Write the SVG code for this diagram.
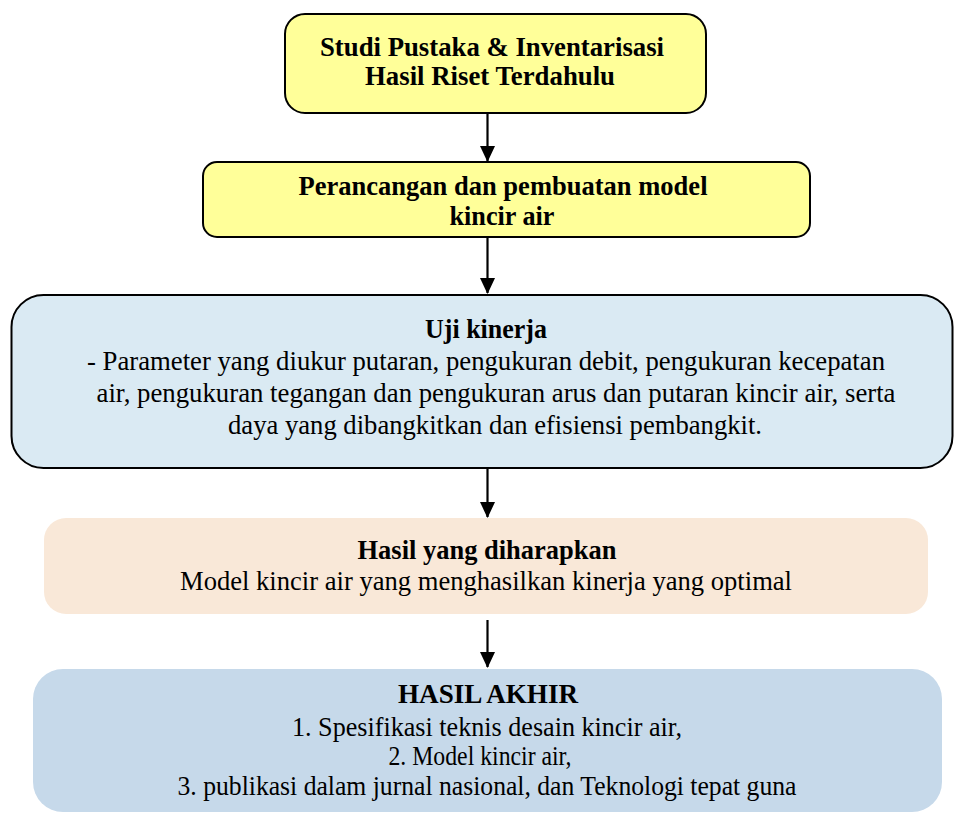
<svg xmlns="http://www.w3.org/2000/svg" width="954" height="813" viewBox="0 0 954 813">
<style>
.t{font-family:"Liberation Serif","Times New Roman",Times,serif;font-size:28px;fill:#000;text-anchor:middle}
.b{font-weight:bold}
.conn line{stroke:#000;stroke-width:2.2}
.box{stroke:#000;stroke-width:2}
</style>
<defs>
<marker id="ah" viewBox="0 0 16 16" markerWidth="16" markerHeight="16" refX="15" refY="8" orient="auto" markerUnits="userSpaceOnUse">
<path d="M0,0.5 L16,8 L0,15.5 Z" fill="#000"/>
</marker>
</defs>
<rect width="954" height="813" fill="#fff"/>
<g id="n1">
<rect class="box" x="285" y="14" width="421" height="99" rx="20" fill="#FFFF99"/>
<text class="t b" x="492" y="56" textLength="344" lengthAdjust="spacingAndGlyphs">Studi Pustaka &amp; Inventarisasi</text>
<text class="t b" x="490" y="85" textLength="250" lengthAdjust="spacingAndGlyphs">Hasil Riset Terdahulu</text>
</g>
<g id="n2">
<rect class="box" x="203" y="162" width="607" height="75" rx="14" fill="#FFFF99"/>
<text class="t b" x="503" y="195" textLength="409" lengthAdjust="spacingAndGlyphs">Perancangan dan pembuatan model</text>
<text class="t b" x="502" y="225" textLength="105" lengthAdjust="spacingAndGlyphs">kincir air</text>
</g>
<g id="n3">
<rect class="box" x="11.5" y="295" width="941" height="173" rx="32" fill="#DAEAF3"/>
<text class="t b" x="486" y="338" textLength="122" lengthAdjust="spacingAndGlyphs">Uji kinerja</text>
<text class="t" x="486" y="370" textLength="798" lengthAdjust="spacingAndGlyphs">- Parameter yang diukur putaran, pengukuran debit, pengukuran kecepatan</text>
<text class="t" x="496" y="402" textLength="799" lengthAdjust="spacingAndGlyphs">air, pengukuran tegangan dan pengukuran arus dan putaran kincir air, serta</text>
<text class="t" x="495" y="434" textLength="534" lengthAdjust="spacingAndGlyphs">daya yang dibangkitkan dan efisiensi pembangkit.</text>
</g>
<g id="n4">
<rect x="44" y="518" width="884" height="96" rx="22" fill="#F9E8D8"/>
<text class="t b" x="487" y="559" textLength="259" lengthAdjust="spacingAndGlyphs">Hasil yang diharapkan</text>
<text class="t" x="486" y="590" textLength="612" lengthAdjust="spacingAndGlyphs">Model kincir air yang menghasilkan kinerja yang optimal</text>
</g>
<g id="n5">
<rect x="33" y="669" width="909" height="143" rx="30" fill="#C6D9EA"/>
<text class="t b" x="488" y="703" textLength="180" lengthAdjust="spacingAndGlyphs">HASIL AKHIR</text>
<text class="t" x="487" y="736" textLength="390" lengthAdjust="spacingAndGlyphs">1. Spesifikasi teknis desain kincir air,</text>
<text class="t" x="480" y="765" textLength="183" lengthAdjust="spacingAndGlyphs">2. Model kincir air,</text>
<text class="t" x="487" y="795" textLength="619" lengthAdjust="spacingAndGlyphs">3. publikasi dalam jurnal nasional, dan Teknologi tepat guna</text>
</g>
<g id="connectors" class="conn">
<line x1="487.5" y1="113" x2="487.5" y2="161" marker-end="url(#ah)"/>
<line x1="487.5" y1="237" x2="487.5" y2="293" marker-end="url(#ah)"/>
<line x1="487.5" y1="468" x2="487.5" y2="517" marker-end="url(#ah)"/>
<line x1="487.5" y1="620" x2="487.5" y2="667" marker-end="url(#ah)"/>
</g>
</svg>
